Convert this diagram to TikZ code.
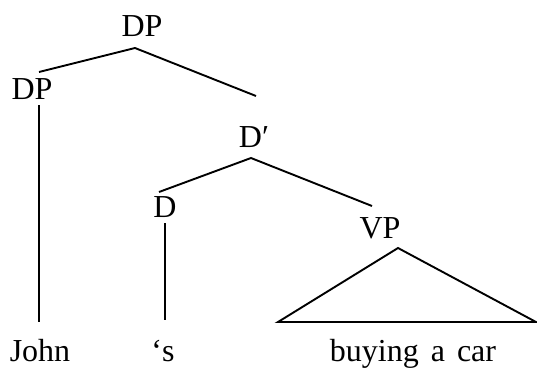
\documentclass[tikz,border=0pt]{standalone}
\usepackage{fontspec}
\setmainfont{Liberation Serif}
\begin{document}
\begin{tikzpicture}[x=1pt,y=-1pt,
  lbl/.style={anchor=base,inner sep=0pt,font=\fontsize{32}{38}\selectfont},
  edge/.style={line width=1.9pt}]
\useasboundingbox (0,0) rectangle (537,367);
% labels
\node[lbl] (dptop) at (142,36) {DP};
\node[lbl] (dpleft) at (32,99) {DP};
\node[lbl] (dbar) at (254,147) {D′};
\node[lbl] (d) at (165,217) {D};
\node[lbl] (vp) at (380,238) {VP};
\node[lbl] (john) at (40,361) {John};
\node[lbl] (poss) at (163,361) {‘s};
\node[lbl] (buy) at (413,361) {buying\hspace{12pt}a\hspace{12pt}car};
% connector end points
\coordinate (dptopB) at (135,48);
\coordinate (dpleftT) at (39,72);
\coordinate (dbarT) at (256,96);
\coordinate (dpleftB) at (39,105);
\coordinate (johnT) at (39,322);
\coordinate (dbarB) at (251,158);
\coordinate (dT) at (159,192);
\coordinate (vpT) at (372,206);
\coordinate (dB) at (165,223);
\coordinate (possT) at (165,320);
\coordinate (vpB) at (398,248);
\coordinate (triL) at (278,322);
\coordinate (triR) at (536,322);
% edges
\draw[edge] (dpleftT) -- (dptopB) -- (dbarT);
\draw[edge] (dpleftB) -- (johnT);
\draw[edge] (dT) -- (dbarB) -- (vpT);
\draw[edge] (dB) -- (possT);
\draw[edge,line join=miter] (triL) -- (vpB) -- (triR) -- cycle;
\end{tikzpicture}
\end{document}
